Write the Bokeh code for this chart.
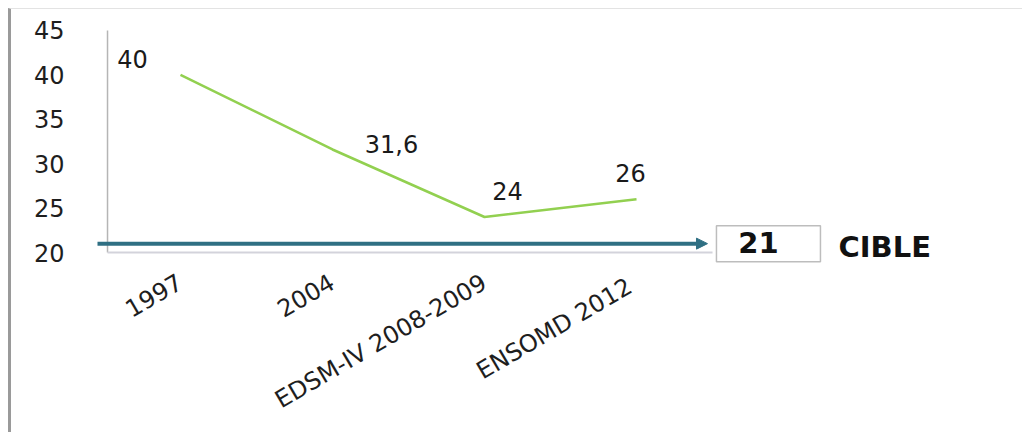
from bokeh.plotting import figure
from bokeh.models import Range1d, FixedTicker, Arrow, NormalHead
from bokeh.core.properties import value
from bokeh.embed import file_html
from bokeh.resources import INLINE

# ---- data ----
categories = ["1997", "2004", "EDSM-IV 2008-2009", "ENSOMD  2012"]
values = [40, 31.6, 24, 26]
value_labels = ["40", "31,6", "24", "26"]
target = 21
target_label = "21"
target_name = "CIBLE"
y_ticks = [20, 25, 30, 35, 40, 45]

# ---- layout / style ----
FONT = "DejaVu Sans"
label_dx = [-48, 59, 23, -6]
label_dy = [-16, -5, -26, -26]
xs = list(range(len(categories)))

p = figure(width=1014, height=424,
           x_range=Range1d(-0.592, 5.559), y_range=Range1d(18.65, 45.9),
           output_backend="svg", toolbar_location=None,
           min_border_left=79, min_border_right=0,
           min_border_top=13, min_border_bottom=169)
p.styles = {"border-left": "3px solid #9a9a9a", "border-top": "1px solid #e3e3e3",
            "margin-left": "8px", "margin-top": "8px"}
p.grid.visible = False
p.outline_line_color = None
p.background_fill_color = "white"
p.border_fill_color = "white"

# y axis
p.yaxis.ticker = FixedTicker(ticks=y_ticks)
p.yaxis.axis_line_color = None
p.yaxis.major_tick_line_color = None
p.yaxis.minor_tick_line_color = None
p.yaxis.major_label_standoff = 20
p.yaxis.major_label_text_font = FONT
p.yaxis.major_label_text_font_size = "24px"
p.yaxis.major_label_text_color = "#1e1e1e"

# x axis
p.xaxis.ticker = FixedTicker(ticks=xs)
p.xaxis.major_label_overrides = {i: c for i, c in zip(xs, categories)}
p.xaxis.major_label_orientation = 0.53
p.xaxis.axis_line_color = None
p.xaxis.major_tick_line_color = None
p.xaxis.minor_tick_line_color = None
p.xaxis.major_label_standoff = 10
p.xaxis.major_label_text_font = FONT
p.xaxis.major_label_text_font_size = "24px"
p.xaxis.major_label_text_color = "#1e1e1e"

# axis lines (bounded)
ax_x = -0.48
p.segment(x0=[ax_x], y0=[y_ticks[0]], x1=[ax_x], y1=[y_ticks[-1]],
          line_color="#b5b5b5", line_width=1.5)
p.segment(x0=[ax_x], y0=[y_ticks[0]], x1=[len(categories) - 0.5], y1=[y_ticks[0]],
          line_color="#d3d3db", line_width=2)

# series
p.line(xs, values, line_color="#92d050", line_width=2.5)
p.text(x=xs, y=values, text=value_labels, x_offset=label_dx, y_offset=label_dy,
       text_align="center", text_baseline="middle",
       text_font=value(FONT), text_font_size="24px", text_color="#1a1a1a")

# target arrow
p.add_layout(Arrow(x_start=-0.546, y_start=target, x_end=3.467, y_end=target,
                   line_color="#2f6f83", line_width=4,
                   end=NormalHead(size=11, fill_color="#2f6f83", line_color="#2f6f83")))

box_x = len(categories) - 1 + 0.868
p.rect(x=[box_x], y=[target], width=104, height=36,
       width_units="screen", height_units="screen",
       fill_color="white", line_color="#bdbdbd", line_width=1.5)
p.text(x=[box_x], y=[target], text=[target_label], x_offset=-10, y_offset=-1,
       text_align="center", text_baseline="middle",
       text_font=value(FONT), text_font_style="bold", text_font_size="29px",
       text_color="#111111")
p.text(x=[box_x + 0.461], y=[target], text=[target_name], x_offset=0, y_offset=3,
       text_align="left", text_baseline="middle",
       text_font=value(FONT), text_font_style="bold", text_font_size="29px",
       text_color="#111111")

open("out.html", "w").write(file_html(p, INLINE))
